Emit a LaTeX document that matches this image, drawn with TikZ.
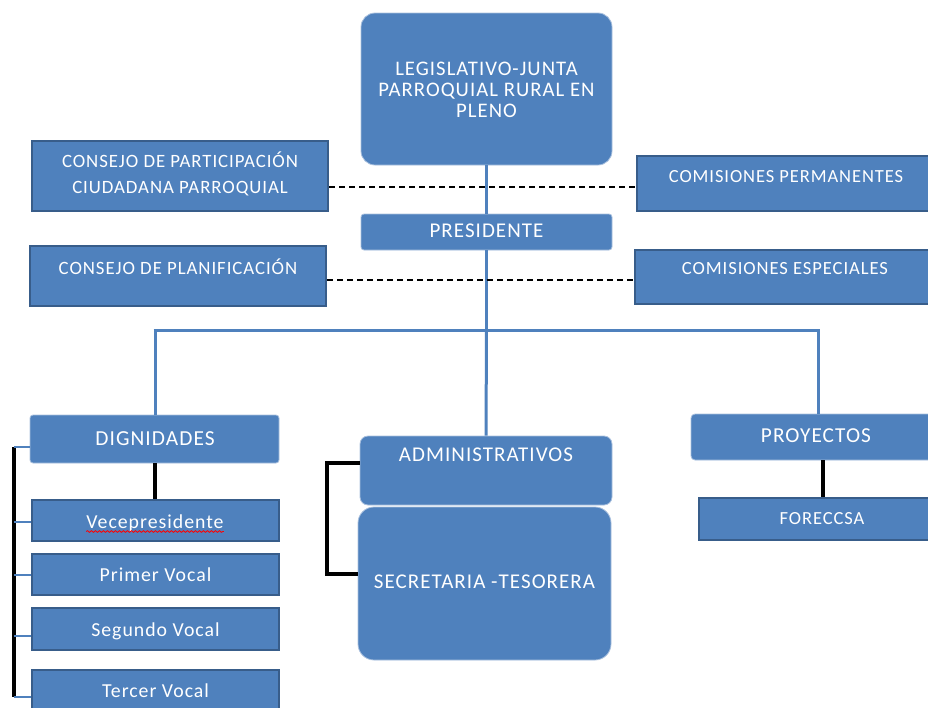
\documentclass[tikz,border=0pt]{standalone}
\usepackage{fontspec}
\setmainfont{Carlito}[LetterSpace=5]
\usetikzlibrary{decorations.pathmorphing}
\definecolor{bfill}{HTML}{4F81BD}
\definecolor{bdark}{HTML}{385D8A}
\definecolor{bedge}{HTML}{A9C0DE}
\begin{document}
\begin{tikzpicture}[x=1pt,y=-1pt,
  rbox/.style={fill=bfill, draw=bedge, line width=0.8pt, rounded corners=#1, inner sep=0},
  sbox/.style={fill=bfill, draw=bdark, line width=2pt, inner sep=0},
  txt/.style={text=white, inner sep=0, font=\fontsize{21}{21}\selectfont, align=center},
  small/.style={font=\fontsize{18.8}{21}\selectfont},
  low/.style={font=\fontsize{19.8}{21}\selectfont},
  big/.style={font=\fontsize{20.7}{21}\selectfont},
  blink/.style={draw=bfill, line width=3pt},
  klink/.style={draw=black, line width=3.2pt},
  tick/.style={draw=bfill, line width=1.1pt}]
\useasboundingbox (0,0) rectangle (928,707);

% boxes
\node[rbox=14pt, minimum width=251pt, minimum height=152pt] (leg) at (486.5,89) {};
\node[sbox, minimum width=296pt, minimum height=70pt] (cpc) at (180,176) {};
\node[sbox, minimum width=298pt, minimum height=55pt] (cperm) at (786,183.5) {};
\node[rbox=3pt, minimum width=251pt, minimum height=36pt] (pres) at (486.5,232) {};
\node[sbox, minimum width=296pt, minimum height=60pt] (cplan) at (178,276) {};
\node[sbox, minimum width=300pt, minimum height=54pt] (cesp) at (785,277) {};
\node[rbox=3pt, minimum width=249pt, minimum height=48pt] (dig) at (154.5,439) {};
\node[sbox, minimum width=247pt, minimum height=41pt] (vice) at (155.5,520.5) {};
\node[sbox, minimum width=247pt, minimum height=41pt] (pv) at (155.5,574.5) {};
\node[sbox, minimum width=247pt, minimum height=42pt] (sv) at (155.5,629) {};
\node[sbox, minimum width=247pt, minimum height=50pt] (tv) at (155.5,695) {};
\node[rbox=8pt, minimum width=252pt, minimum height=69pt] (adm) at (486,470.5) {};
\node[rbox=16pt, minimum width=253pt, minimum height=153pt] (sec) at (484.5,583.5) {};
\node[rbox=4pt, minimum width=242pt, minimum height=46pt] (proy) at (812,437) {};
\node[sbox, minimum width=234pt, minimum height=42pt] (fore) at (816,519) {};

% texts
\node[txt, big] (legt) at (486.5,90) {LEGISLATIVO-JUNTA\\PARROQUIAL RURAL EN\\PLENO};
\node[txt, font=\fontsize{18.8}{26}\selectfont] (cpct) at (180,174) {CONSEJO DE PARTICIPACIÓN\\CIUDADANA PARROQUIAL};
\node[txt, font=\fontsize{18.5}{21}\selectfont] (cpermt) at (786,177) {COMISIONES PERMANENTES};
\node[txt] (prest) at (486.5,231) {PRESIDENTE};
\node[txt, small] (cplant) at (178,267) {CONSEJO DE PLANIFICACIÓN};
\node[txt, font=\fontsize{18.6}{21}\selectfont] (cespt) at (785,269) {COMISIONES ESPECIALES};
\node[txt, font=\fontsize{21.4}{21}\selectfont] (digt) at (155,439) {DIGNIDADES};
\node[txt, low, anchor=base] (vicet) at (155,528) {Vecepresidente};
\node[txt, low, anchor=base] (pvt) at (155.5,581) {Primer Vocal};
\node[txt, low, anchor=base] (svt) at (155.5,636) {Segundo Vocal};
\node[txt, low, anchor=base] (tvt) at (155.5,697) {Tercer Vocal};
\node[txt] (admt) at (486,455) {ADMINISTRATIVOS};
\node[txt] (sect) at (484.5,582) {SECRETARIA -TESORERA};
\node[txt, font=\fontsize{21.3}{21}\selectfont] (proyt) at (816,436) {PROYECTOS};
\node[txt, font=\fontsize{18.5}{21}\selectfont] (foret) at (822,519) {FORECCSA};

% red wavy underline
\draw[red, line width=0.8pt, decorate, decoration={snake, amplitude=0.9pt, segment length=4pt}]
  ([yshift=-3.5pt]vicet.base west) -- ([yshift=-3.5pt]vicet.base east);

% blue connectors
\coordinate (hub) at (486.5,330);
\coordinate (hl) at (155,330);
\coordinate (hr) at (818,330);
\draw[blink] (leg.south) -- (pres.north);
\draw[blink] (pres.south) -- (hub);
\draw[blink] ([xshift=-1.5pt]hl) -- ([xshift=1.5pt]hr);
\draw[blink] (hl) -- (hl |- dig.north);
\draw[blink] (hub) -- (adm.north);
\draw[blink] (hr) -- (hr |- proy.north);

% dashed links
\coordinate (d1) at (0,187);
\coordinate (d2) at (0,280);
\draw[black, line width=1.4pt, dash pattern=on 6pt off 4pt] (cpc.east |- d1) -- (cperm.west |- d1);
\draw[black, line width=1.4pt, dash pattern=on 6pt off 4pt] (cplan.east |- d2) -- (cesp.west |- d2);

% black links
\draw[klink] (dig.south -| 155,0) -- (vice.north -| 155,0);
\coordinate (bt) at (14,447);
\coordinate (bb) at (14,697);
\draw[klink] (bt) -- (bb);
\draw[tick] (bt) -- (dig.west |- bt);
\draw[tick] (14,522) -- (vice.west |- 0,522);
\draw[tick] (14,575) -- (pv.west |- 0,575);
\draw[tick] (14,636) -- (sv.west |- 0,636);
\draw[tick] (bb) -- (tv.west |- bb);

\draw[klink] (adm.west |- 0,463) -- (327,463) -- (327,574) -- (sec.west |- 0,574);
\draw[klink] (proy.south -| 823,0) -- (fore.north -| 823,0);
\end{tikzpicture}
\end{document}
